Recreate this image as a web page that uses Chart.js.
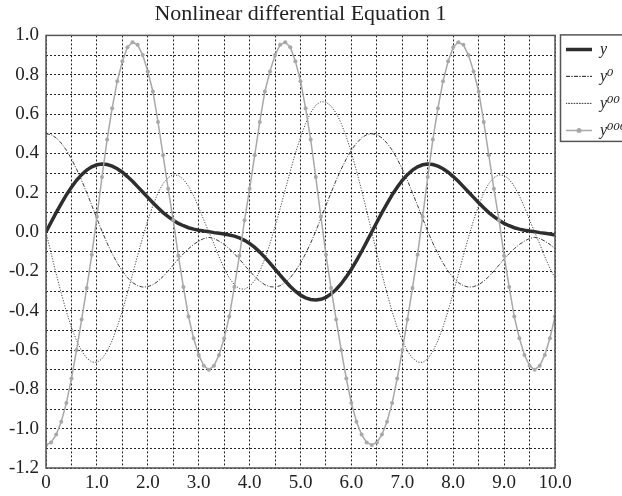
<!DOCTYPE html>
<html>
<head>
<meta charset="utf-8">
<script src="https://cdn.jsdelivr.net/npm/chart.js@4.4.0/dist/chart.umd.min.js"></script>
<style>
  html, body { margin: 0; padding: 0; background: #fff; overflow: hidden; }
</style>
</head>
<body>
<canvas id="chart" width="622" height="496"></canvas>
<script>
// x positions (step 0.1)
const xValues = [
  0.0, 0.1, 0.2, 0.3, 0.4, 0.5, 0.6, 0.7, 0.8, 0.9,
  1.0, 1.1, 1.2, 1.3, 1.4, 1.5, 1.6, 1.7, 1.8, 1.9,
  2.0, 2.1, 2.2, 2.3, 2.4, 2.5, 2.6, 2.7, 2.8, 2.9,
  3.0, 3.1, 3.2, 3.3, 3.4, 3.5, 3.6, 3.7, 3.8, 3.9,
  4.0, 4.1, 4.2, 4.3, 4.4, 4.5, 4.6, 4.7, 4.8, 4.9,
  5.0, 5.1, 5.2, 5.3, 5.4, 5.5, 5.6, 5.7, 5.8, 5.9,
  6.0, 6.1, 6.2, 6.3, 6.4, 6.5, 6.6, 6.7, 6.8, 6.9,
  7.0, 7.1, 7.2, 7.3, 7.4, 7.5, 7.6, 7.7, 7.8, 7.9,
  8.0, 8.1, 8.2, 8.3, 8.4, 8.5, 8.6, 8.7, 8.8, 8.9,
  9.0, 9.1, 9.2, 9.3, 9.4, 9.5, 9.6, 9.7, 9.8, 9.9,
  10.0
];

// y
const yValues = [
  0.000, 0.050, 0.099, 0.145, 0.189, 0.228, 0.263, 0.292, 0.315, 0.332,
  0.342, 0.346, 0.343, 0.335, 0.322, 0.304, 0.282, 0.258, 0.231, 0.204,
  0.176, 0.149, 0.123, 0.099, 0.078, 0.060, 0.044, 0.032, 0.022, 0.015,
  0.009, 0.005, 0.002, -0.003, -0.006, -0.010, -0.015, -0.021, -0.030, -0.042,
  -0.058, -0.078, -0.102, -0.129, -0.158, -0.189, -0.219, -0.249, -0.277, -0.301,
  -0.321, -0.335, -0.343, -0.346, -0.342, -0.332, -0.315, -0.292, -0.263, -0.228,
  -0.189, -0.145, -0.099, -0.050, 0.000, 0.050, 0.099, 0.145, 0.189, 0.228,
  0.263, 0.292, 0.315, 0.332, 0.342, 0.346, 0.343, 0.335, 0.322, 0.304,
  0.282, 0.258, 0.231, 0.204, 0.176, 0.149, 0.123, 0.099, 0.078, 0.060,
  0.044, 0.032, 0.022, 0.015, 0.009, 0.005, 0.002, -0.003, -0.006, -0.010,
  -0.015
];

// y0 (first derivative)
const y0Values = [
  0.500, 0.495, 0.479, 0.452, 0.417, 0.372, 0.320, 0.263, 0.200, 0.135,
  0.069, 0.004, -0.056, -0.110, -0.158, -0.199, -0.232, -0.257, -0.273, -0.280,
  -0.278, -0.268, -0.250, -0.226, -0.198, -0.168, -0.138, -0.110, -0.085, -0.063,
  -0.046, -0.033, -0.027, -0.033, -0.046, -0.063, -0.085, -0.110, -0.138, -0.168,
  -0.198, -0.226, -0.250, -0.268, -0.278, -0.280, -0.273, -0.257, -0.232, -0.199,
  -0.158, -0.110, -0.056, 0.004, 0.069, 0.135, 0.200, 0.263, 0.320, 0.372,
  0.417, 0.452, 0.479, 0.495, 0.500, 0.495, 0.479, 0.452, 0.417, 0.372,
  0.320, 0.263, 0.200, 0.135, 0.069, 0.004, -0.056, -0.110, -0.158, -0.199,
  -0.232, -0.257, -0.273, -0.280, -0.278, -0.268, -0.250, -0.226, -0.198, -0.168,
  -0.138, -0.110, -0.085, -0.063, -0.046, -0.033, -0.027, -0.033, -0.046, -0.063,
  -0.085
];

// y00 (second derivative)
const y00Values = [
  0.000, -0.108, -0.213, -0.312, -0.404, -0.485, -0.552, -0.605, -0.641, -0.661,
  -0.663, -0.645, -0.607, -0.552, -0.482, -0.401, -0.310, -0.215, -0.119, -0.027,
  0.059, 0.135, 0.199, 0.247, 0.277, 0.291, 0.288, 0.268, 0.233, 0.184,
  0.126, 0.061, 0.000, -0.061, -0.126, -0.184, -0.233, -0.268, -0.288, -0.291,
  -0.277, -0.247, -0.199, -0.135, -0.059, 0.027, 0.119, 0.215, 0.310, 0.401,
  0.482, 0.552, 0.607, 0.645, 0.663, 0.661, 0.641, 0.605, 0.552, 0.485,
  0.404, 0.312, 0.213, 0.108, 0.000, -0.108, -0.213, -0.312, -0.404, -0.485,
  -0.552, -0.605, -0.641, -0.661, -0.663, -0.645, -0.607, -0.552, -0.482, -0.401,
  -0.310, -0.215, -0.119, -0.027, 0.059, 0.135, 0.199, 0.247, 0.277, 0.291,
  0.288, 0.268, 0.233, 0.184, 0.126, 0.061, 0.000, -0.061, -0.126, -0.184,
  -0.233
];

// y000 (third derivative)
const y000Values = [
  -1.083, -1.070, -1.030, -0.965, -0.870, -0.745, -0.600, -0.445, -0.285, -0.115,
  0.078, 0.280, 0.470, 0.630, 0.767, 0.868, 0.940, 0.965, 0.952, 0.900,
  0.817, 0.715, 0.560, 0.390, 0.220, 0.060, -0.120, -0.280, -0.430, -0.540,
  -0.625, -0.680, -0.700, -0.680, -0.625, -0.540, -0.430, -0.280, -0.120, 0.060,
  0.220, 0.390, 0.560, 0.715, 0.817, 0.900, 0.952, 0.965, 0.940, 0.868,
  0.767, 0.630, 0.470, 0.280, 0.078, -0.115, -0.285, -0.445, -0.600, -0.745,
  -0.870, -0.965, -1.030, -1.070, -1.083, -1.070, -1.030, -0.965, -0.870, -0.745,
  -0.600, -0.445, -0.285, -0.115, 0.078, 0.280, 0.470, 0.630, 0.767, 0.868,
  0.940, 0.965, 0.952, 0.900, 0.817, 0.715, 0.560, 0.390, 0.220, 0.060,
  -0.120, -0.280, -0.430, -0.540, -0.625, -0.680, -0.700, -0.680, -0.625, -0.540,
  -0.430
];

const seriesLabels = ["y", "y\u2070", "y\u2070\u2070", "y\u2070\u2070\u2070"];
const xTickLabels = ["0", "1.0", "2.0", "3.0", "4.0", "5.0", "6.0", "7.0", "8.0", "9.0", "10.0"];
const yTickLabels = ["-1.2", "-1.0", "-0.8", "-0.6", "-0.4", "-0.2", "0.0", "0.2", "0.4", "0.6", "0.8", "1.0"];

const serif = "'Liberation Serif', 'DejaVu Serif', serif";
Chart.defaults.font.family = serif;
Chart.defaults.color = "#222";

function points(vals) {
  return xValues.map((x, i) => ({ x: x, y: vals[i] }));
}

// cadre du graphique + boite de legende
const framePlugin = {
  id: "frame",
  afterLayout(chart) {
    // remonte un peu la legende
    chart.legend.top -= 5;
    chart.legend.bottom -= 5;
  },
  afterDraw(chart) {
    const { ctx, chartArea } = chart;
    ctx.save();
    ctx.strokeStyle = "#555";
    ctx.lineWidth = 1.5;
    ctx.setLineDash([]);
    ctx.strokeRect(chartArea.left, chartArea.top, chartArea.right - chartArea.left, chartArea.bottom - chartArea.top);

    const legend = chart.legend;
    const boxes = legend.legendHitBoxes;
    if (boxes && boxes.length) {
      const last = boxes[boxes.length - 1];
      const top = chartArea.top - 0.5;
      ctx.strokeRect(legend.left + 5.5, top, 120, last.top + last.height / 2 + 11 - top);
      // marqueur dans la legende de y000
      const b = boxes[3];
      ctx.fillStyle = "#a8a8a8";
      ctx.beginPath();
      ctx.arc(b.left + 13, b.top + b.height / 2, 2.5, 0, Math.PI * 2);
      ctx.fill();
    }
    ctx.restore();
  }
};

const ctx = document.getElementById("chart").getContext("2d");
new Chart(ctx, {
  type: "line",
  data: {
    datasets: [
      {
        label: seriesLabels[0],
        data: points(yValues),
        borderColor: "#2e2e2e",
        backgroundColor: "#2e2e2e",
        borderWidth: 3.5,
        pointRadius: 0,
        order: 4
      },
      {
        label: seriesLabels[1],
        data: points(y0Values),
        borderColor: "#3c3c3c",
        backgroundColor: "#3c3c3c",
        borderWidth: 1,
        borderDash: [4, 1.5, 1, 1.5],
        pointRadius: 0,
        order: 3
      },
      {
        label: seriesLabels[2],
        data: points(y00Values),
        borderColor: "#4a4a4a",
        backgroundColor: "#4a4a4a",
        borderWidth: 1,
        borderDash: [1.2, 1.5],
        pointRadius: 0,
        order: 2
      },
      {
        label: seriesLabels[3],
        data: points(y000Values),
        borderColor: "#a8a8a8",
        backgroundColor: "#a8a8a8",
        borderWidth: 1.5,
        pointRadius: 2,
        pointBackgroundColor: "#a8a8a8",
        pointBorderWidth: 0,
        order: 1
      }
    ]
  },
  options: {
    responsive: false,
    animation: false,
    layout: { padding: { left: 0, right: 0, top: 0, bottom: 0 } },
    scales: {
      x: {
        type: "linear",
        min: 0,
        max: 10,
        afterFit(scale) { scale.height = 28; },
        ticks: {
          stepSize: 0.5,
          autoSkip: false,
          maxRotation: 0,
          padding: 4,
          color: "#222",
          font: { size: 19 },
          callback: (v) => {
            const k = Math.round(v * 10);
            return k % 10 === 0 ? xTickLabels[k / 10] : "";
          }
        },
        grid: { color: "#222", lineWidth: 1, drawTicks: false },
        border: { display: false, dash: [2, 2] }
      },
      y: {
        min: -1.2,
        max: 1.0,
        afterFit(scale) { scale.width = 46; },
        ticks: {
          stepSize: 0.1,
          autoSkip: false,
          padding: 7,
          color: "#222",
          font: { size: 19 },
          callback: (v) => {
            const k = Math.round(v * 10);
            return k % 2 === 0 ? yTickLabels[(k + 12) / 2] : "";
          }
        },
        grid: { color: "#222", lineWidth: 1, drawTicks: false },
        border: { display: false, dash: [2, 2] }
      }
    },
    plugins: {
      title: {
        display: true,
        fullSize: false,
        text: "Nonlinear differential Equation 1",
        color: "#222",
        font: { size: 22, weight: "normal" },
        padding: { top: 1, bottom: 8 }
      },
      legend: {
        position: "right",
        align: "start",
        fullSize: false,
        maxWidth: 67,
        labels: {
          boxWidth: 26,
          boxHeight: 0,
          padding: 11,
          color: "#222",
          font: { size: 16, style: "italic" },
          sort: (a, b) => a.datasetIndex - b.datasetIndex
        }
      },
      tooltip: { enabled: false }
    },
    elements: { line: { tension: 0 } }
  },
  plugins: [framePlugin]
});
</script>
</body>
</html>
